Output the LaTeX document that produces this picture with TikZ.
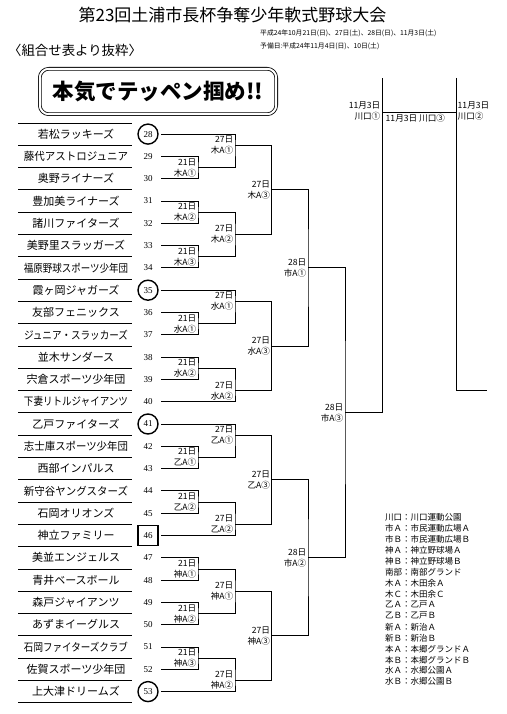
\documentclass[tikz,border=0pt]{standalone}
\usepackage{fontspec}
\setmainfont{Liberation Serif}
\newfontfamily\jp{Noto Sans CJK JP}
\usepackage{graphicx}
\usetikzlibrary{positioning,calc}

\newsavebox\namebox
\newcommand{\fitname}[1]{\sbox\namebox{#1}%
  \ifdim\wd\namebox>104pt\resizebox{104pt}{\ht\namebox}{\usebox\namebox}\else\usebox\namebox\fi}
\newcommand{\rowy}[1]{134.1+22.3*(#1)}

\begin{document}
\begin{tikzpicture}[x=1pt, y=-1pt,
    teamname/.style={font=\jp\fontsize{11}{12}\selectfont, inner sep=0pt},
    teamnum/.style={font=\fontsize{9}{10}\selectfont, inner sep=0pt, minimum size=20pt},
    mlbl/.style={font=\jp\fontsize{8.6}{11}\selectfont, align=right, anchor=east, inner sep=1.5pt},
    legline/.style={font=\jp\fontsize{8.5}{10}\selectfont, anchor=west, inner sep=0pt},
    brk/.style={line width=0.9pt},
    sepline/.style={line width=0.8pt}
]
\useasboundingbox (0,0) rectangle (506,714);

% heading
\node[font=\jp\fontsize{17}{20}\selectfont] (title) at (232.5,15) {第23回土浦市長杯争奪少年軟式野球大会};
\node[font=\jp\fontsize{6.8}{8}\selectfont, anchor=west, inner sep=0pt] (date1) at (260,33) {平成24年10月21日(日)、27日(土)、28日(日)、11月3日(土)};
\node[font=\jp\fontsize{6.8}{8}\selectfont, anchor=west, inner sep=0pt] (date2) at (260,46) {予備日:平成24年11月4日(日)、10日(土)};
\node[font=\jp\fontsize{13.4}{15}\selectfont, anchor=west, inner sep=0pt] (excerpt) at (8,50) {〈組合せ表より抜粋〉};
\node[draw, double, line width=0.8pt, double distance=2pt, rounded corners=9pt,
      minimum width=236.4pt, minimum height=45.4pt,
      font=\jp\bfseries\fontsize{21.5}{24}\selectfont] (motto) at (158,91.5) {本気でテッペン掴め!!};

% team table
\foreach \k in {0,...,26}
  \draw[sepline] (18,{\rowy{\k-0.5}}) -- (132,{\rowy{\k-0.5}});
\foreach \nm [count=\n from 28] in {若松ラッキーズ, 藤代アストロジュニア, 奥野ライナーズ, 豊加美ライナーズ,
    諸川ファイターズ, 美野里スラッガーズ, 福原野球スポーツ少年団, 霞ヶ岡ジャガーズ, 友部フェニックス,
    ジュニア・スラッカーズ, 並木サンダース, 宍倉スポーツ少年団, 下妻リトルジャイアンツ, 乙戸ファイターズ,
    志士庫スポーツ少年団, 西部インパルス, 新守谷ヤングスターズ, 石岡オリオンズ, 神立ファミリー,
    美並エンジェルス, 青井ベースボール, 森戸ジャイアンツ, あずまイーグルス, 石岡ファイターズクラブ,
    佐賀スポーツ少年団, 上大津ドリームズ} {
  \pgfmathsetmacro\k{\n-28}
  \node[teamname] (t\n) at (76,{\rowy{\k}}) {\fitname{\nm}};
  \node[teamnum] (n\n) at (148,{\rowy{\k}}) {\n};
  \coordinate (e\n) at (161,{\rowy{\k}});
}
\foreach \n in {28,35,41,53}
  \draw[line width=1.4pt] (n\n) circle (10pt);
\draw[line width=1.6pt] ($(n46)+(-10,-10)$) rectangle ($(n46)+(10,10)$);

% bracket
\foreach \mname/\mx/\mk/\mtop/\mbot/\mdate/\mvenue in {
    a1/198/1.5/e29/e30/21日/木A①, a2/198/3.5/e31/e32/21日/木A②, a3/198/5.5/e33/e34/21日/木A③,
    b1/198/8.5/e36/e37/21日/水A①, b2/198/10.5/e38/e39/21日/水A②,
    c1/198/14.5/e42/e43/21日/乙A①, c2/198/16.5/e44/e45/21日/乙A②,
    d1/198/19.5/e47/e48/21日/神A①, d2/198/21.5/e49/e50/21日/神A②, d3/198/23.5/e51/e52/21日/神A③,
    a4/235/0.5/e28/a1/27日/木A①, a5/235/4.5/a2/a3/27日/木A②,
    b3/235/7.5/e35/b1/27日/水A①, b4/235/11.5/b2/e40/27日/水A②,
    c3/235/13.5/e41/c1/27日/乙A①, c4/235/17.5/c2/e46/27日/乙A②,
    d4/235/20.5/d1/d2/27日/神A①, d5/235/24.5/d3/e53/27日/神A②,
    a6/271.7/2.5/a4/a5/27日/木A③, b5/271.7/9.5/b3/b4/27日/水A③,
    c5/271.7/15.5/c3/c4/27日/乙A③, d6/271.7/22.5/d4/d5/27日/神A③,
    q1/308/6/a6/b5/28日/市A①, q2/308/19/c5/d6/28日/市A②,
    s1/345/12.5/q1/q2/28日/市A③} {
  \coordinate (\mname) at (\mx,{\rowy{\mk}});
  \draw[brk] (\mtop) -| (\mname) |- (\mbot);
  \node[mlbl] (l\mname) at (\mname) {\mdate\\\mvenue};
}

% final rounds
\coordinate (k1) at (382,78);
\coordinate (k2) at (456,78);
\coordinate (k3) at (487,390);
\coordinate (f1) at (382,112);
\coordinate (f2) at (456,112);
\draw[brk] (s1) -| (k1);
\draw[brk] (k2) |- (k3);
\draw[brk] (f1) -- (f2);
\node[mlbl] (lsemi1) at (382,111) {11月3日\\川口①};
\node[mlbl, anchor=west, align=left] (lsemi2) at (456,111) {11月3日\\川口②};
\node[mlbl, anchor=north west] (lfinal) at (384,112.5) {11月3日\ 川口③};

% venues
\foreach \t [count=\i from 0] in {川口：川口運動公園, 市Ａ：市民運動広場Ａ, 市Ｂ：市民運動広場Ｂ,
    神Ａ：神立野球場Ａ, 神Ｂ：神立野球場Ｂ, 南部：南部グランド, 木Ａ：木田余Ａ, 木Ｃ：木田余Ｃ,
    乙Ａ：乙戸Ａ, 乙Ｂ：乙戸Ｂ, 新Ａ：新治Ａ, 新Ｂ：新治Ｂ, 本Ａ：本郷グランドＡ, 本Ｂ：本郷グランドＢ,
    水Ａ：水郷公園Ａ, 水Ｂ：水郷公園Ｂ}
  \node[legline] (leg\i) at (385,{517.3+10.96*\i}) {\t};
\end{tikzpicture}
\end{document}
